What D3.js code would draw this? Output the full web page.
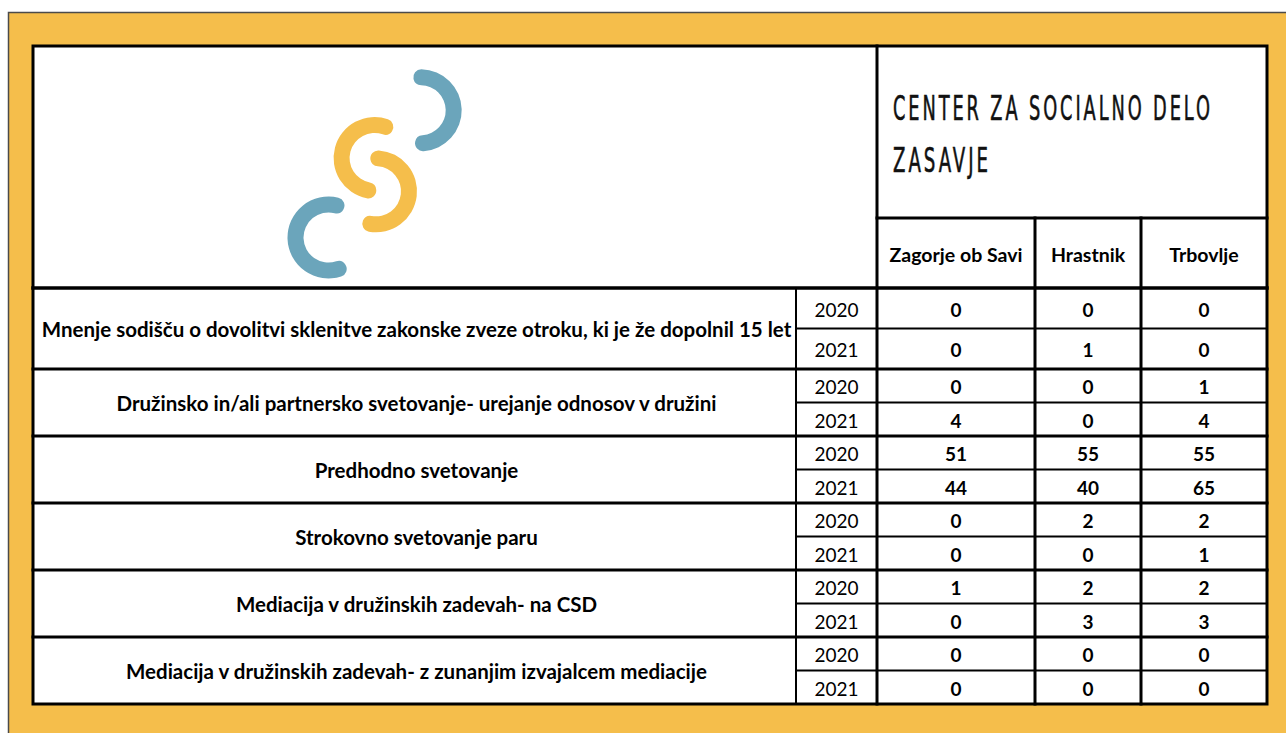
<!DOCTYPE html>
<html>
<head>
<meta charset="utf-8">
<script src="https://cdn.jsdelivr.net/npm/d3@7"></script>
<style>
  body { margin: 0; background: #fff; }
  svg { display: block; }
</style>
</head>
<body>
<svg id="chart"></svg>
<script>
/*******************************************************************************************/
// Data

var title = ['CENTER ZA SOCIALNO DELO', 'ZASAVJE'];
var units = ['Zagorje ob Savi', 'Hrastnik', 'Trbovlje'];
var years = ['2020', '2021'];
var services = [
  'Mnenje sodišču o dovolitvi sklenitve zakonske zveze otroku, ki je že dopolnil 15 let',
  'Družinsko in/ali partnersko svetovanje- urejanje odnosov v družini',
  'Predhodno svetovanje',
  'Strokovno svetovanje paru',
  'Mediacija v družinskih zadevah- na CSD',
  'Mediacija v družinskih zadevah- z zunanjim izvajalcem mediacije'
];
// one [2020, 2021] pair per service
var zagorje  = [[0, 0], [0, 4], [51, 44], [0, 0], [1, 0], [0, 0]];
var hrastnik = [[0, 1], [0, 0], [55, 40], [2, 0], [2, 3], [0, 0]];
var trbovlje = [[0, 0], [1, 4], [55, 65], [2, 1], [2, 3], [0, 0]];

/*******************************************************************************************/
// Layout

var W = 1286, H = 733;
var orange = '#f5be4b', blue = '#6ba5bb';
var tLeft = 33, tRight = 1267, tTop = 46, headBottom = 288, tBottom = 704;
var yearLeft = 796, split = 877, subHeadTop = 218;
var valueEdges = [877, 1035, 1141, 1267];
var firstGroupH = 81;

var svg = d3.select('#chart').attr('width', W).attr('height', H);

svg.append('rect').attr('width', W).attr('height', H).attr('fill', '#fff');
svg.append('rect')
  .attr('x', 8.5).attr('y', 12.5).attr('width', W).attr('height', H)
  .attr('fill', orange).attr('stroke', '#4b4b4b').attr('stroke-width', 1.5);
svg.append('rect')
  .attr('x', tLeft).attr('y', tTop).attr('width', tRight - tLeft).attr('height', tBottom - tTop)
  .attr('fill', '#fff');

// rows: first group is taller, the rest share what is left
var groupTop = d3.scaleLinear().domain([1, services.length]).range([headBottom + firstGroupH, tBottom]);
function gTop(i){ return i == 0 ? headBottom : groupTop(i); }
function gBot(i){ return i == services.length - 1 ? tBottom : gTop(i + 1); }

var columns = [zagorje, hrastnik, trbovlje];
var xCenter = d3.scaleOrdinal().domain(units)
  .range(units.map(function(d, i){ return (valueEdges[i] + valueEdges[i + 1]) / 2; }));

/*******************************************************************************************/
// Logo

var logoArc = d3.arc().innerRadius(25).outerRadius(41).cornerRadius(8);
var rad = Math.PI / 180;
var logo = [
  { cx: 420.7, cy: 110.3, a0: -13, a1: 190, c: blue },
  { cx: 374.6, cy: 158.0, a0: 177, a1: 393, c: orange },
  { cx: 376.0, cy: 191.3, a0: -10, a1: 204, c: orange },
  { cx: 328.5, cy: 237.5, a0: 148, a1: 388, c: blue }
];
svg.append('g').selectAll('path').data(logo).enter().append('path')
  .attr('transform', function(d){ return 'translate(' + d.cx + ',' + d.cy + ')'; })
  .attr('d', function(d){ return logoArc({ startAngle: d.a0 * rad, endAngle: d.a1 * rad }); })
  .attr('fill', function(d){ return d.c; });

/*******************************************************************************************/
// Grid lines

var grid = svg.append('g').attr('stroke', '#000').attr('stroke-linecap', 'square');
function line(x1, y1, x2, y2, w){
  grid.append('line').attr('x1', x1).attr('y1', y1).attr('x2', x2).attr('y2', y2).attr('stroke-width', w);
}

services.forEach(function(s, i){
  if(i > 0) line(tLeft, gTop(i), tRight, gTop(i), 3);
  var mid = (gTop(i) + gBot(i)) / 2;
  line(yearLeft, mid, tRight, mid, 2);
});
line(tLeft, headBottom, tRight, headBottom, 3.5);
line(split, subHeadTop, tRight, subHeadTop, 3);
line(yearLeft, headBottom, yearLeft, tBottom, 2);
line(split, tTop, split, tBottom, 3);
line(valueEdges[1], subHeadTop, valueEdges[1], tBottom, 3);
line(valueEdges[2], subHeadTop, valueEdges[2], tBottom, 3);
grid.append('rect').attr('x', tLeft).attr('y', tTop).attr('width', tRight - tLeft).attr('height', tBottom - tTop)
  .attr('fill', 'none').attr('stroke-width', 3);

/*******************************************************************************************/
// Texts

var font = 'Lato, "Open Sans", sans-serif';

// condensed, letter-spaced title: squeeze each line horizontally to its width
var titleWidths = [317, 95];
svg.append('g').selectAll('text').data(title).enter().append('text')
  .attr('x', 0).attr('y', 0)
  .style('font-family', '"DejaVu Sans Condensed", "Liberation Sans Narrow", sans-serif')
  .style('font-size', '34px').style('letter-spacing', '5px').style('fill', '#111')
  .style('stroke', '#111').style('stroke-width', 0.6)
  .text(function(d){ return d; })
  .attr('transform', function(d, i){
    var w = this.getComputedTextLength() - 5;
    return 'translate(893,' + (120 + i * 52) + ') scale(' + (titleWidths[i] / w) + ',1)';
  });

svg.append('g').selectAll('text').data(units).enter().append('text')
  .attr('x', function(d){ return xCenter(d); }).attr('y', (subHeadTop + headBottom) / 2 + 9)
  .attr('text-anchor', 'middle')
  .style('font-family', font).style('font-weight', 700).style('font-size', '19.5px')
  .text(function(d){ return d; });

svg.append('g').selectAll('text').data(services).enter().append('text')
  .attr('x', (tLeft + yearLeft) / 2 + 2)
  .attr('y', function(d, i){ return (gTop(i) + gBot(i)) / 2 + 8.5; })
  .attr('text-anchor', 'middle')
  .style('font-family', font).style('font-weight', 700).style('font-size', '20.5px')
  .text(function(d){ return d; });

var cells = [];
services.forEach(function(s, i){
  years.forEach(function(y, j){
    var y0 = j == 0 ? gTop(i) : (gTop(i) + gBot(i)) / 2;
    var y1 = j == 0 ? (gTop(i) + gBot(i)) / 2 : gBot(i);
    cells.push({ year: y, yc: (y0 + y1) / 2, values: columns.map(function(c){ return c[i][j]; }) });
  });
});

var rowG = svg.append('g').selectAll('g').data(cells).enter().append('g');
rowG.append('text')
  .attr('x', (yearLeft + split) / 2).attr('y', function(d){ return d.yc + 8.5; })
  .attr('text-anchor', 'middle')
  .style('font-family', font).style('font-size', '19px')
  .text(function(d){ return d.year; });
rowG.selectAll('.val').data(function(d){ return d.values.map(function(v, k){ return { v: v, u: units[k], yc: d.yc }; }); })
  .enter().append('text').attr('class', 'val')
  .attr('x', function(d){ return xCenter(d.u); }).attr('y', function(d){ return d.yc + 8.5; })
  .attr('text-anchor', 'middle')
  .style('font-family', font).style('font-weight', 700).style('font-size', '19px')
  .text(function(d){ return d.v; });
</script>
</body>
</html>
